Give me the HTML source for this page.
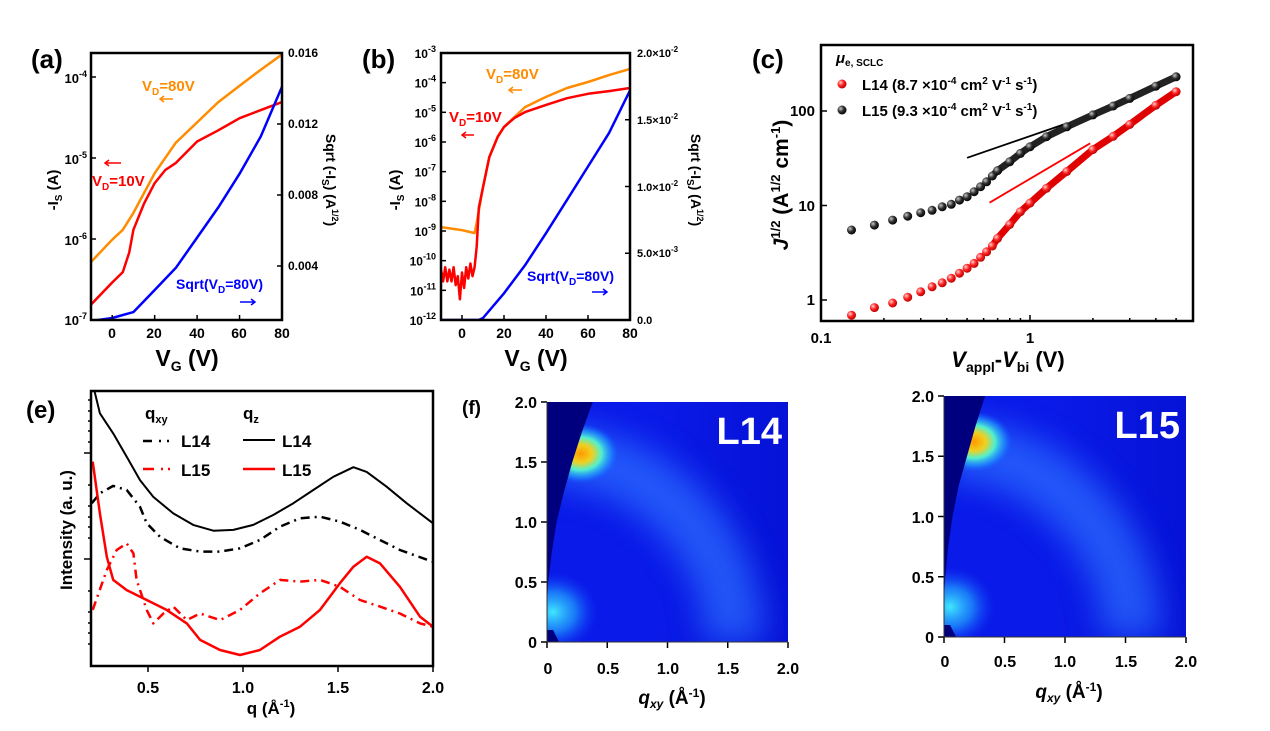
<!DOCTYPE html>
<html><head><meta charset="utf-8"><style>
html,body{margin:0;padding:0;background:#fff;width:1270px;height:731px;overflow:hidden;}
svg{display:block;font-family:"Liberation Sans",Arial,sans-serif;font-weight:bold;}
</style></head><body>
<svg id="fig" width="1270" height="731" viewBox="0 0 1270 731" xmlns="http://www.w3.org/2000/svg">
<defs>
<radialGradient id="gRed" cx="0.35" cy="0.35" r="0.7"><stop offset="0" stop-color="#ffd0d0"/><stop offset="0.5" stop-color="#ff2020"/><stop offset="1" stop-color="#b00000"/></radialGradient>
<radialGradient id="gBlk" cx="0.35" cy="0.35" r="0.7"><stop offset="0" stop-color="#c8c8c8"/><stop offset="0.5" stop-color="#303030"/><stop offset="1" stop-color="#000"/></radialGradient>
<radialGradient id="gHot"><stop offset="0" stop-color="#ff9a00"/><stop offset="0.3" stop-color="#f0d020"/><stop offset="0.55" stop-color="#50f0d0"/><stop offset="0.8" stop-color="#20a0ff" stop-opacity="0.6"/><stop offset="1" stop-color="#1060ff" stop-opacity="0"/></radialGradient>
<radialGradient id="gLow"><stop offset="0" stop-color="#40e8ff"/><stop offset="0.5" stop-color="#20a0ff" stop-opacity="0.7"/><stop offset="1" stop-color="#1040ff" stop-opacity="0"/></radialGradient>
<linearGradient id="gShade" x1="0" y1="0" x2="1" y2="0"><stop offset="0" stop-color="#0008c0" stop-opacity="0"/><stop offset="1" stop-color="#0008c0" stop-opacity="0.45"/></linearGradient>
<filter id="blur18" x="-40%" y="-40%" width="180%" height="180%"><feGaussianBlur stdDeviation="16"/></filter>
<clipPath id="clipF"><rect x="547" y="402" width="241" height="240"/></clipPath>
<clipPath id="clipG"><rect x="944" y="396" width="242" height="241"/></clipPath>
<clipPath id="clipA"><rect x="91" y="53" width="191" height="267"/></clipPath>
<clipPath id="clipB"><rect x="441" y="53" width="189" height="267"/></clipPath>
<clipPath id="clipE"><rect x="91" y="391" width="342" height="275"/></clipPath>
</defs>

<g>
<text x="31" y="68" font-size="26">(a)</text>
<g font-size="13" text-anchor="end">
<text x="87" y="83">10<tspan font-size="9" dy="-6">-4</tspan></text>
<text x="87" y="164">10<tspan font-size="9" dy="-6">-5</tspan></text>
<text x="87" y="245">10<tspan font-size="9" dy="-6">-6</tspan></text>
<text x="87" y="325">10<tspan font-size="9" dy="-6">-7</tspan></text>
</g>
<g font-size="12">
<text x="288" y="57">0.016</text>
<text x="288" y="128">0.012</text>
<text x="288" y="199">0.008</text>
<text x="288" y="270">0.004</text>
</g>
<g font-size="14" text-anchor="middle">
<text x="112" y="338">0</text><text x="154" y="338">20</text><text x="197" y="338">40</text><text x="239" y="338">60</text><text x="282" y="338">80</text>
</g>
<text x="187" y="366" font-size="23" text-anchor="middle">V<tspan font-size="14" dy="5">G</tspan><tspan dy="-5"> (V)</tspan></text>
<text transform="translate(58,190) rotate(-90)" font-size="15" text-anchor="middle">-I<tspan font-size="10" dy="4">S</tspan><tspan dy="-4"> (A)</tspan></text>
<text transform="translate(326,180) rotate(90)" font-size="14" text-anchor="middle">Sqrt (-I<tspan font-size="10" dy="4">S</tspan><tspan dy="-4">) (A</tspan><tspan font-size="9" dy="-6">1/2</tspan><tspan dy="6">)</tspan></text>
<text x="142" y="91" font-size="15" fill="#ff8c00">V<tspan font-size="10" dy="4">D</tspan><tspan dy="-4">=80V</tspan></text>
<text x="92" y="186" font-size="15" fill="#ff0000">V<tspan font-size="10" dy="4">D</tspan><tspan dy="-4">=10V</tspan></text>
<text x="176" y="289" font-size="14" fill="#0000ff">Sqrt(V<tspan font-size="10" dy="4">D</tspan><tspan dy="-4">=80V)</tspan></text>
<path d="M173 99 H160 M164 96 L160 99 L164 102" stroke="#ff8c00" stroke-width="1.5" fill="none"/>
<path d="M121 163 H105 M109 160 L105 163 L109 166" stroke="#ff0000" stroke-width="1.5" fill="none"/>
<path d="M240 302 H255 M251 299 L255 302 L251 305" stroke="#0000ff" stroke-width="1.5" fill="none"/>
</g>

<g>
<text x="362" y="68" font-size="26">(b)</text>
<g id="bLeftTicks" font-size="12" text-anchor="end"></g>
<g font-size="11">
<text x="637" y="57">2.0×10<tspan font-size="8" dy="-5">-2</tspan></text>
<text x="637" y="124">1.5×10<tspan font-size="8" dy="-5">-2</tspan></text>
<text x="637" y="191">1.0×10<tspan font-size="8" dy="-5">-2</tspan></text>
<text x="637" y="257">5.0×10<tspan font-size="8" dy="-5">-3</tspan></text>
<text x="637" y="324">0.0</text>
</g>
<g font-size="14" text-anchor="middle">
<text x="462" y="338">0</text><text x="504" y="338">20</text><text x="546" y="338">40</text><text x="588" y="338">60</text><text x="630" y="338">80</text>
</g>
<text x="536" y="366" font-size="23" text-anchor="middle">V<tspan font-size="14" dy="5">G</tspan><tspan dy="-5"> (V)</tspan></text>
<text transform="translate(400,190) rotate(-90)" font-size="15" text-anchor="middle">-I<tspan font-size="10" dy="4">S</tspan><tspan dy="-4"> (A)</tspan></text>
<text transform="translate(691,180) rotate(90)" font-size="14" text-anchor="middle">Sqrt (-I<tspan font-size="10" dy="4">S</tspan><tspan dy="-4">) (A</tspan><tspan font-size="9" dy="-6">1/2</tspan><tspan dy="6">)</tspan></text>
<text x="486" y="79" font-size="15" fill="#ff8c00">V<tspan font-size="10" dy="4">D</tspan><tspan dy="-4">=80V</tspan></text>
<text x="449" y="122" font-size="15" fill="#ff0000">V<tspan font-size="10" dy="4">D</tspan><tspan dy="-4">=10V</tspan></text>
<text x="527" y="281" font-size="14" fill="#0000ff">Sqrt(V<tspan font-size="10" dy="4">D</tspan><tspan dy="-4">=80V)</tspan></text>
<path d="M522 90 H509 M513 87 L509 90 L513 93" stroke="#ff8c00" stroke-width="1.5" fill="none"/>
<path d="M474 135 H462 M466 132 L462 135 L466 138" stroke="#ff0000" stroke-width="1.5" fill="none"/>
<path d="M592 292 H607 M603 289 L607 292 L603 295" stroke="#0000ff" stroke-width="1.5" fill="none"/>
</g>

<g>
<text x="752" y="68" font-size="26">(c)</text>
<text x="836" y="63" font-size="15"><tspan font-style="italic">μ</tspan><tspan font-size="10" dy="3">e, SCLC</tspan></text>
<circle cx="842" cy="84" r="4.5" fill="url(#gRed)"/>
<text x="862" y="90" font-size="15">L14 (8.7 ×10<tspan font-size="10" dy="-6">-4</tspan><tspan dy="6"> cm</tspan><tspan font-size="10" dy="-6">2</tspan><tspan dy="6"> V</tspan><tspan font-size="10" dy="-6">-1</tspan><tspan dy="6"> s</tspan><tspan font-size="10" dy="-6">-1</tspan><tspan dy="6">)</tspan></text>
<circle cx="842" cy="110" r="4.5" fill="url(#gBlk)"/>
<text x="862" y="116" font-size="15">L15 (9.3 ×10<tspan font-size="10" dy="-6">-4</tspan><tspan dy="6"> cm</tspan><tspan font-size="10" dy="-6">2</tspan><tspan dy="6"> V</tspan><tspan font-size="10" dy="-6">-1</tspan><tspan dy="6"> s</tspan><tspan font-size="10" dy="-6">-1</tspan><tspan dy="6">)</tspan></text>
<g font-size="15" text-anchor="end">
<text x="815" y="116">100</text><text x="815" y="211">10</text><text x="815" y="305">1</text>
</g>
<g font-size="15" text-anchor="middle">
<text x="821" y="343">0.1</text><text x="1030" y="343">1</text>
</g>
<text x="1008" y="367" font-size="22" text-anchor="middle"><tspan font-style="italic">V</tspan><tspan font-size="14" dy="5">appl</tspan><tspan dy="-5">-</tspan><tspan font-style="italic">V</tspan><tspan font-size="14" dy="5">bi</tspan><tspan dy="-5"> (V)</tspan></text>
<text transform="translate(788,185) rotate(-90)" font-size="21" text-anchor="middle"><tspan font-style="italic">J</tspan><tspan font-size="13" dy="-8">1/2</tspan><tspan dy="8"> (A</tspan><tspan font-size="13" dy="-8">1/2</tspan><tspan dy="8"> cm</tspan><tspan font-size="13" dy="-8">-1</tspan><tspan dy="8">)</tspan></text>
</g>

<g>
<text x="26" y="418" font-size="24">(e)</text>
<text x="145" y="419" font-size="17">q<tspan font-size="11" dy="4">xy</tspan></text>
<text x="243" y="419" font-size="17">q<tspan font-size="11" dy="4">z</tspan></text>
<path d="M143 441 H152 M159 441 H161 M167 441 H169" stroke="#000" stroke-width="2.5"/>
<text x="181" y="447" font-size="17">L14</text>
<path d="M243 440 H275" stroke="#000" stroke-width="2"/>
<text x="282" y="447" font-size="17">L14</text>
<path d="M143 469 H154 M161 469 H163 M168 469 H170" stroke="#ff0000" stroke-width="2.5"/>
<text x="181" y="476" font-size="17">L15</text>
<path d="M243 469 H275" stroke="#ff0000" stroke-width="2.5"/>
<text x="282" y="476" font-size="17">L15</text>
<g font-size="16" text-anchor="middle">
<text x="148" y="693">0.5</text><text x="243" y="693">1.0</text><text x="338" y="693">1.5</text><text x="433" y="693">2.0</text>
</g>
<text x="271" y="714" font-size="17" text-anchor="middle">q (Å<tspan font-size="11" dy="-7">-1</tspan><tspan dy="7">)</tspan></text>
<text transform="translate(72,530) rotate(-90)" font-size="17" text-anchor="middle">Intensity (a. u.)</text>
</g>

<g>
<text x="462" y="414" font-size="19">(f)</text>
<g font-size="16" text-anchor="end">
<text x="537" y="408">2.0</text><text x="537" y="468">1.5</text><text x="537" y="528">1.0</text><text x="537" y="588">0.5</text><text x="537" y="648">0</text>
</g>
<g font-size="16" text-anchor="middle">
<text x="548" y="674">0</text><text x="608" y="674">0.5</text><text x="668" y="674">1.0</text><text x="728" y="674">1.5</text><text x="788" y="674">2.0</text>
</g>
<text x="672" y="704" font-size="19" text-anchor="middle"><tspan font-style="italic">q</tspan><tspan font-size="12" dy="4" font-style="italic">xy</tspan><tspan dy="-4"> (Å</tspan><tspan font-size="12" dy="-7">-1</tspan><tspan dy="7">)</tspan></text>
<g font-size="16" text-anchor="end">
<text x="934" y="402">2.0</text><text x="934" y="462">1.5</text><text x="934" y="523">1.0</text><text x="934" y="583">0.5</text><text x="934" y="643">0</text>
</g>
<g font-size="16" text-anchor="middle">
<text x="945" y="667">0</text><text x="1005" y="667">0.5</text><text x="1065" y="667">1.0</text><text x="1126" y="667">1.5</text><text x="1186" y="667">2.0</text>
</g>
<text x="1069" y="698" font-size="19" text-anchor="middle"><tspan font-style="italic">q</tspan><tspan font-size="12" dy="4" font-style="italic">xy</tspan><tspan dy="-4"> (Å</tspan><tspan font-size="12" dy="-7">-1</tspan><tspan dy="7">)</tspan></text>
</g>
<g id="dyn"></g>
</svg>
<script>
// (a)
const aOrangeX = [-10,0,5,10,20,30,40,50,60,70,80];
const aOrangeI = [5.2e-7,9.8e-7,1.3e-6,2.1e-6,6.5e-6,1.55e-5,2.75e-5,4.9e-5,7.8e-5,1.23e-4,1.9e-4];
const aRedX = [-10,0,5,8,10,15,20,25,30,40,50,60,70,80];
const aRedI = [1.55e-7,2.9e-7,3.9e-7,6.8e-7,1.3e-6,2.75e-6,4.9e-6,7.1e-6,8.7e-6,1.6e-5,2.2e-5,3.1e-5,3.9e-5,4.9e-5];
const aBlueX = [-10,0,10,20,30,40,50,60,70,80];
const aBlueS = [0.0009,0.00107,0.0014,0.00265,0.0039,0.0056,0.0073,0.0092,0.0113,0.0141];
// (b)
const bOrangeX = [-10,0,6,7,10,13,17,20,30,40,50,60,70,80];
const bOrangeI = [1.35e-9,1.07e-9,8.5e-10,1.9e-9,3.0e-8,3.1e-7,1.5e-6,3.2e-6,1.5e-5,3.3e-5,6.6e-5,1.05e-4,1.8e-4,2.9e-4];
const bRedX = [-10,-9,-8,-7,-6,-5,-4,-3,-2,-1,0,1,2,3,4,5,6,7,8,10,13,17,20,25,30,40,50,60,70,80];
const bRedI = [5e-11,2e-11,6e-11,2e-11,5e-11,2e-11,6e-11,1.5e-11,3e-11,5e-12,4e-11,1.2e-11,6e-11,2.5e-11,8e-11,3e-11,6e-11,3e-10,6e-9,3e-8,3.1e-7,1.5e-6,3.2e-6,6.5e-6,1.02e-5,1.78e-5,3.0e-5,4.2e-5,5.2e-5,6.6e-5];
const bBlueX = [-10,8,10,20,30,40,50,60,70,80];
const bBlueS = [0,0,0.00015,0.002,0.0041,0.0065,0.009,0.0115,0.014,0.0172];
const bTickExp = [-3,-4,-5,-6,-7,-8,-9,-10,-11,-12];
// (c)
const cV = [0.14,0.18,0.22,0.26,0.30,0.34,0.38,0.42,0.46,0.50,0.54,0.58,0.62,0.66,0.7,0.8,0.9,1.0,1.2,1.5,2.0,2.5,3.0,4.0,5.0];
const cL14 = [0.69,0.83,0.93,1.07,1.22,1.38,1.52,1.70,1.92,2.17,2.44,2.83,3.24,3.73,4.5,6.3,8.6,10.6,15.2,22.9,39,54,72,115,160];
const cL15 = [5.5,6.2,7.0,7.7,8.4,8.9,9.7,10.3,11.4,12.4,14.0,15.8,17.8,20.5,23.4,29,35.6,41.8,53.5,68,91,113,136,183,230];
const cFitL15V = [0.5,1.5], cFitL15J = [32,74];
const cFitL14V = [0.64,1.94], cFitL14J = [10.7,45.5];
// (e)
const eQzL14Q = [0.217,0.247,0.317,0.388,0.458,0.528,0.633,0.738,0.844,0.949,1.054,1.159,1.265,1.370,1.475,1.581,1.651,1.756,1.861,2.0];
const eQzL14I = [100.4,91.9,84.6,76.1,67.6,61.5,55.5,51.3,49.2,49.5,51.3,54.9,59.2,64,68.8,72.3,70.6,65.2,59.2,51.9];
const eQxyL14Q = [0.204,0.247,0.317,0.388,0.458,0.493,0.563,0.668,0.774,0.879,0.984,1.089,1.195,1.3,1.405,1.51,1.616,1.721,1.826,2.0];
const eQxyL14I = [59.2,62.8,65.5,64,57.9,51.9,47,42.8,41.6,41.6,42.8,45.8,50.7,53.7,54.3,52.5,49.5,45.8,42.2,37.9];
const eQzL15Q = [0.209,0.247,0.283,0.317,0.388,0.493,0.598,0.704,0.774,0.879,0.984,1.089,1.195,1.3,1.405,1.51,1.581,1.651,1.721,1.826,1.932,2.0];
const eQzL15I = [74.3,55.5,39.7,31.3,27.6,24,20.4,15.5,9.5,5.8,4,5.8,10.7,14.3,20.4,30.1,36.1,39.7,37.3,28.8,17.9,14.3];
const eQxyL15Q = [0.209,0.283,0.335,0.388,0.423,0.44,0.493,0.528,0.581,0.633,0.704,0.774,0.879,0.984,1.089,1.195,1.3,1.405,1.51,1.616,1.721,1.826,1.932,2.0];
const eQxyL15I = [20.4,34.9,42.2,44.6,41,31.3,20.4,15.5,19.1,21.6,16.7,19.1,16.7,20.4,26.4,31.3,30.7,31.3,28.8,24,21.6,19.1,15.5,14.3];
// (f)
const hotL14 = [0.28,1.57], hotL15 = [0.25,1.62];
const ringQ = [1.55, 0.32];
const wedgeQz = [2.0,1.75,1.5,1.25,1.0,0.75,0.5,0.3];
const wedgeL14 = [0.38,0.29,0.21,0.14,0.08,0.04,0.01,0.0];
const wedgeL15 = [0.34,0.26,0.19,0.12,0.07,0.035,0.01,0.0];

const NS='http://www.w3.org/2000/svg';
const root=document.getElementById('dyn');
function mk(tag, attrs, parent){
  const e=document.createElementNS(NS,tag);
  for(const k in attrs) e.setAttribute(k,attrs[k]);
  (parent||root).appendChild(e);
  return e;
}
function pathFrom(xs, ys, fx, fy){
  return xs.map((x,i)=>(i?'L':'M')+fx(x).toFixed(1)+' '+fy(ys[i]).toFixed(1)).join(' ');
}
function frame(x,y,w,h,name){
  const r=mk('rect',{x:x,y:y,width:w,height:h,fill:'none',stroke:'#000','stroke-width':2.5});
  
  
}
function tick(x1,y1,x2,y2,name){
  const t=mk('line',{x1:x1,y1:y1,x2:x2,y2:y2,stroke:'#000','stroke-width':1.5});
  
  
}
function series(d, color, w, clip, name, dash){
  const p=mk('path',{d:d,fill:'none',stroke:color,'stroke-width':w,'stroke-linejoin':'round','clip-path':clip});
  if(dash) p.setAttribute('stroke-dasharray',dash);
  
  
  return p;
}

// (a)
const xa=v=>91+(v+10)*191/90;
const yaL=v=>320-(Math.log10(v)+7)*81;
const yaR=v=>337-v/0.004*71;
series(pathFrom(aOrangeX,aOrangeI,xa,yaL),'#ff8c00',2.5,'url(#clipA)','series-a-vd80');
series(pathFrom(aRedX,aRedI,xa,yaL),'#ff0000',2.5,'url(#clipA)','series-a-vd10');
series(pathFrom(aBlueX,aBlueS,xa,yaR),'#0000ff',2.5,'url(#clipA)','series-a-sqrt');
frame(91,53,191,267,'panel-a-frame');
[0,20,40,60,80].forEach(v=>tick(xa(v),320,xa(v),315,'x-tick-a'));
[-4,-5,-6].forEach(e=>tick(91,yaL(Math.pow(10,e)),96,yaL(Math.pow(10,e)),'y-tick-a'));
[0.004,0.008,0.012].forEach(v=>tick(282,yaR(v),277,yaR(v),'right-tick-a'));

// (b)
const xb=v=>441+(v+10)*189/90;
const ybL=v=>320-(Math.log10(v)+12)*29.67;
const ybR=v=>320-v/0.02*267;
series(pathFrom(bBlueX,bBlueS,xb,ybR),'#0000ff',2.5,'url(#clipB)','series-b-sqrt');
series(pathFrom(bOrangeX,bOrangeI,xb,ybL),'#ff8c00',2.5,'url(#clipB)','series-b-vd80');
series(pathFrom(bRedX,bRedI,xb,ybL),'#ff0000',2.5,'url(#clipB)','series-b-vd10');
frame(441,53,189,267,'panel-b-frame');
const bt=document.getElementById('bLeftTicks');
bTickExp.forEach(e=>{
  const y=ybL(Math.pow(10,e));
  const t=mk('text',{x:436,y:(y+5).toFixed(1)},bt);
  
  
  t.appendChild(document.createTextNode('10'));
  const s=mk('tspan',{'font-size':9,dy:-6},t);
  s.textContent=String(e);
  tick(441,y,446,y,'y-tick-b');
});
[0,20,40,60,80].forEach(v=>tick(xb(v),320,xb(v),315,'x-tick-b'));
[0.005,0.01,0.015].forEach(v=>tick(630,ybR(v),625,ybR(v),'right-tick-b'));

// (c)
const xc=v=>821+(Math.log10(v)+1)*209;
const yc=v=>300-Math.log10(v)*94.5;
frame(821,45,372,276,'panel-c-frame');
[1].forEach(v=>tick(xc(v),321,xc(v),315,'x-tick-c'));
[2,3,4,5,0.2,0.3,0.4,0.5,0.6,0.7,0.8,0.9].forEach(v=>tick(xc(v),321,xc(v),318,'x-minor-tick-c'));
[1,10,100].forEach(v=>tick(821,yc(v),827,yc(v),'y-tick-c'));
const denseStart=13;
series(pathFrom(cV.slice(denseStart),cL15.slice(denseStart),xc,yc),'#222',7,'','series-c-l15-dense');
series(pathFrom(cV.slice(denseStart),cL14.slice(denseStart),xc,yc),'#e00000',7,'','series-c-l14-dense');
series(pathFrom(cFitL15V,cFitL15J,xc,yc),'#000',1.8,'','fit-line-l15');
series(pathFrom(cFitL14V,cFitL14J,xc,yc),'#ff0000',1.8,'','fit-line-l14');
cV.forEach((v,i)=>{
  const m1=mk('circle',{cx:xc(v).toFixed(1),cy:yc(cL15[i]).toFixed(1),r:4.5,fill:'url(#gBlk)'});
  
  
  const m2=mk('circle',{cx:xc(v).toFixed(1),cy:yc(cL14[i]).toFixed(1),r:4.5,fill:'url(#gRed)'});
  
  
});

// (e)
const xe=q=>91+(q-0.2)*190;
const ye=v=>666-v*2.75;
series(pathFrom(eQzL14Q,eQzL14I,xe,ye),'#000',2,'url(#clipE)','series-e-qz-l14');
series(pathFrom(eQxyL14Q,eQxyL14I,xe,ye),'#000',2.5,'url(#clipE)','series-e-qxy-l14','9 5 2 5');
series(pathFrom(eQzL15Q,eQzL15I,xe,ye),'#ff0000',2.5,'url(#clipE)','series-e-qz-l15');
series(pathFrom(eQxyL15Q,eQxyL15I,xe,ye),'#ff0000',2.5,'url(#clipE)','series-e-qxy-l15','9 5 2 5');
frame(91,391,342,275,'panel-e-frame');
[0.5,1.0,1.5,2.0].forEach(q=>tick(xe(q),666,xe(q),672,'x-tick-e'));
[453,559].forEach(y=>tick(91,y,84,y,'y-tick-e'));
[400,411,421,431,442,485,506,517,527,538,591,612,623,633,644].forEach(y=>tick(91,y,88,y,'y-minor-tick-e'));

// heatmaps
function heatmap(x0,y0,w,h,hot,wedge,clip,label,name){
  const fx=q=>x0+q*w/2, fy=q=>y0+h-q*h/2;
  const g=mk('g',{'clip-path':clip});
  
  
  const bg=mk('rect',{x:x0,y:y0,width:w,height:h,fill:'#0a1ae8'},g);
  
  
  const shade=mk('rect',{x:x0+w*0.45,y:y0,width:w*0.55,height:h,fill:'url(#gShade)'},g);
  
  
  const R=ringQ[0]*w/2;
  const r1=mk('path',{d:'M'+x0+' '+(y0+h-R).toFixed(1)+' A'+R.toFixed(1)+' '+R.toFixed(1)+' 0 0 1 '+(x0+R).toFixed(1)+' '+(y0+h),fill:'none',stroke:'#2a6cff','stroke-width':60,opacity:0.75,filter:'url(#blur18)'},g);
  
  
  const r2=mk('ellipse',{cx:fx(0.05),cy:fy(0.25),rx:45,ry:40,fill:'url(#gLow)'},g);
  
  
  const hs=mk('ellipse',{cx:fx(hot[0]),cy:fy(hot[1]),rx:38,ry:30,fill:'url(#gHot)'},g);
  
  
  let d='M'+fx(0)+' '+fy(wedgeQz[0]);
  wedgeQz.forEach((qz,i)=>{ d+=' L'+fx(wedge[i]).toFixed(1)+' '+fy(qz).toFixed(1); });
  d+=' Z';
  const wd=mk('path',{d:d,fill:'#00007e'},g);
  
  
  const bs=mk('path',{d:'M'+fx(0)+' '+fy(0)+' V'+fy(0.1)+' H'+fx(0.05)+' L'+fx(0.1)+' '+fy(0)+' Z',fill:'#00007e'},g);
  
  
  const t=mk('text',{x:x0+w-6,y:y0+42,'font-size':38,fill:'#fff','text-anchor':'end'});
  
  
  t.textContent=label;
  [0,0.5,1,1.5,2].forEach(q=>{
    tick(fx(q),y0+h,fx(q),y0+h+6,'heatmap-x-tick');
    tick(x0,fy(q),x0-6,fy(q),'heatmap-y-tick');
  });
  const ax=mk('path',{d:'M'+x0+' '+y0+' V'+(y0+h)+' H'+(x0+w),fill:'none',stroke:'#333','stroke-width':1});
  
  
}
heatmap(547,402,241,240,hotL14,wedgeL14,'url(#clipF)','L14','heatmap-l14');
heatmap(944,396,242,241,hotL15,wedgeL15,'url(#clipG)','L15','heatmap-l15');
</script>
</body></html>
